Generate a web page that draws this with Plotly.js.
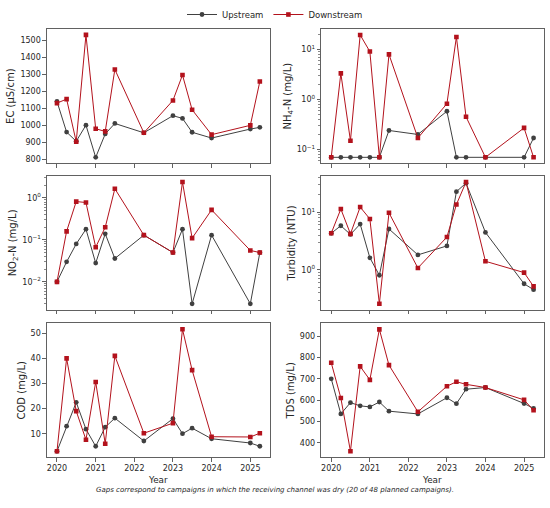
<!DOCTYPE html>
<html>
<head>
<meta charset="utf-8">
<script src="https://cdn.plot.ly/plotly-3.0.1.min.js"></script>
<style>
  html, body { margin: 0; padding: 0; background: #fff; }
  #chart { width: 550px; height: 508px; }
</style>
</head>
<body>
<div id="chart"></div>
<script>
// ---- Data ----
const dates = ["2020-01-01","2020-04-01","2020-07-01","2020-10-01","2021-01-01","2021-04-01","2021-07-01",
               "2022-04-01","2023-01-01","2023-04-01","2023-07-01","2024-01-01","2025-01-01","2025-04-01"];

const ecUp    = [1140, 959, 905, 1000, 810, 948, 1010, 955, 1056, 1040, 958, 924, 977, 987];
const ecDown  = [1130, 1154, 902, 1533, 979, 963, 1329, 955, 1146, 1296, 1091, 944, 999, 1258];

const nh4Up   = [0.07, 0.07, 0.07, 0.07, 0.07, 0.07, 0.24, 0.20, 0.58, 0.07, 0.07, 0.07, 0.07, 0.17];
const nh4Down = [0.07, 3.3, 0.15, 19.3, 9.0, 0.07, 7.9, 0.17, 0.82, 17.6, 0.45, 0.07, 0.27, 0.07];

const no2Up   = [0.010, 0.030, 0.080, 0.18, 0.028, 0.14, 0.036, 0.13, 0.050, 0.18, 0.003, 0.13, 0.003, 0.050];
const no2Down = [0.010, 0.16, 0.82, 0.78, 0.067, 0.20, 1.66, 0.13, 0.050, 2.4, 0.11, 0.52, 0.056, 0.050];

const turbUp   = [4.3, 5.8, 4.1, 6.2, 1.62, 0.81, 5.1, 1.82, 2.6, 22.5, 31.6, 4.45, 0.577, 0.456];
const turbDown = [4.3, 11.3, 4.2, 12.2, 7.6, 0.26, 9.7, 1.08, 3.7, 13.5, 33, 1.41, 0.90, 0.52];

const codUp   = [3.0, 13.0, 22.5, 11.8, 5.0, 12.6, 16.2, 7.1, 16.0, 10.0, 12.2, 8.0, 6.3, 5.0];
const codDown = [3.0, 40.0, 19.0, 7.6, 30.6, 6.0, 41.0, 10.2, 14.2, 51.6, 35.3, 8.8, 8.7, 10.2];

const tdsUp   = [700, 535, 588, 573, 568, 591, 548, 535, 611, 583, 651, 659, 584, 561];
const tdsDown = [775, 610, 360, 758, 695, 932, 764, 545, 665, 686, 674, 659, 601, 552];

const seriesNames = ["Upstream", "Downstream"];
const yTitles = ["EC (µS/cm)", "NH<sub>4</sub>-N (mg/L)", "NO<sub>2</sub>-N (mg/L)",
                 "Turbidity (NTU)", "COD (mg/L)", "TDS (mg/L)"];
const xTitle = "Year";
const caption = "Gaps correspond to campaigns in which the receiving channel was dry (20 of 48 planned campaigns).";

// log tick labels
const nh4TickVals = [0.1, 1, 10];
const nh4TickText = ["10<sup>−1</sup>", "10<sup>0</sup>", "10<sup>1</sup>"];
const no2TickVals = [0.01, 0.1, 1];
const no2TickText = ["10<sup>−2</sup>", "10<sup>−1</sup>", "10<sup>0</sup>"];
const turbTickVals = [1, 10];
const turbTickText = ["10<sup>0</sup>", "10<sup>1</sup>"];

// ---- Styling ----
const upColor = "#404040";
const downColor = "#b3121c";
const axisColor = "#3a3a3a";
const textColor = "#262626";
const font = "DejaVu Sans, sans-serif";

const panels = [
  {up: ecUp,   down: ecDown},
  {up: nh4Up,  down: nh4Down},
  {up: no2Up,  down: no2Down},
  {up: turbUp, down: turbDown},
  {up: codUp,  down: codDown},
  {up: tdsUp,  down: tdsDown}
];

const traces = [];
panels.forEach((p, i) => {
  const suffix = i === 0 ? "" : String(i + 1);
  traces.push({
    x: dates, y: p.up, type: "scatter", mode: "lines+markers",
    name: seriesNames[0], legendgroup: "up", showlegend: i === 0,
    xaxis: "x" + suffix, yaxis: "y" + suffix,
    line: {color: upColor, width: 1},
    marker: {symbol: "circle", size: 4.8, color: upColor}
  });
  traces.push({
    x: dates, y: p.down, type: "scatter", mode: "lines+markers",
    name: seriesNames[1], legendgroup: "down", showlegend: i === 0,
    xaxis: "x" + suffix, yaxis: "y" + suffix,
    line: {color: downColor, width: 1},
    marker: {symbol: "square", size: 4.6, color: downColor}
  });
});

const W = 550, H = 508;
const colDom = [[46.7 / W, 270 / W], [321 / W, 543.7 / W]];
const rowDom = [[1 - 160.7 / H, 1 - 25 / H], [1 - 308.3 / H, 1 - 173.3 / H], [1 - 457 / H, 1 - 321.7 / H]];

function minorLog(lo, hi) {
  const v = [];
  for (let e = Math.floor(lo) - 1; e <= Math.ceil(hi) + 1; e++) {
    for (let m = 2; m <= 9; m++) {
      const val = m * Math.pow(10, e);
      const l = Math.log10(val);
      if (l >= lo && l <= hi) v.push(val);
    }
  }
  return v;
}

const yCfg = [
  {type: "linear", range: [774, 1569], dtick: 100, tick0: 0},
  {type: "log", range: [-1.277, 1.408], tickvals: nh4TickVals, ticktext: nh4TickText},
  {type: "log", range: [-2.668, 0.525], tickvals: no2TickVals, ticktext: no2TickText},
  {type: "log", range: [-0.690, 1.624], tickvals: turbTickVals, ticktext: turbTickText},
  {type: "linear", range: [0.57, 54.0], dtick: 10, tick0: 0},
  {type: "linear", range: [331, 961], dtick: 100, tick0: 0}
];

const annotations = [{
  text: "<i>" + caption + "</i>", xref: "paper", yref: "paper",
  x: 0.5, y: 1 - 490 / H, xanchor: "center", yanchor: "middle",
  showarrow: false, font: {family: font, size: 7, color: textColor}
}];
// x-axis titles ("Year") under the bottom-row panels
colDom.forEach(d => {
  annotations.push({
    text: xTitle, xref: "paper", yref: "paper",
    x: (d[0] + d[1]) / 2, y: 1 - 479.5 / H, xanchor: "center", yanchor: "middle",
    showarrow: false, font: {family: font, size: 8.8, color: textColor}
  });
});

const layout = {
  width: W, height: H,
  margin: {l: 0, r: 0, t: 0, b: 0},
  paper_bgcolor: "#fff", plot_bgcolor: "#fff",
  font: {family: font, size: 8, color: textColor},
  showlegend: true,
  legend: {
    orientation: "h", x: 0.5, xanchor: "center", y: 1 - 10.5 / H, yanchor: "middle",
    font: {family: font, size: 8.5, color: textColor},
    itemwidth: 30, tracegroupgap: 0, bgcolor: "rgba(0,0,0,0)"
  },
  annotations: annotations
};

for (let i = 0; i < 6; i++) {
  const suffix = i === 0 ? "" : String(i + 1);
  const col = i % 2, row = Math.floor(i / 2);
  const bottom = row === 2;
  layout["xaxis" + suffix] = {
    type: "date", domain: colDom[col], anchor: "y" + suffix,
    range: ["2019-09-26", "2025-07-06"],
    dtick: "M12", tick0: "2020-01-01", tickformat: "%Y",
    showticklabels: bottom, ticks: "outside", ticklen: 3.5, tickwidth: 0.8, tickcolor: axisColor,
    showline: true, linecolor: axisColor, linewidth: 0.8, mirror: true,
    showgrid: false, zeroline: false, fixedrange: true,
    tickfont: {family: font, size: 8, color: textColor}
  };
  const c = yCfg[i];
  const ya = {
    type: c.type, domain: rowDom[row], anchor: "x" + suffix, range: c.range,
    ticks: "outside", ticklen: 3.5, tickwidth: 0.8, tickcolor: axisColor,
    showline: true, linecolor: axisColor, linewidth: 0.8, mirror: true,
    showgrid: false, zeroline: false, fixedrange: true,
    tickfont: {family: font, size: 8, color: textColor},
    title: {text: yTitles[i], font: {family: font, size: 10, color: textColor}, standoff: 3}
  };
  if (c.type === "log") {
    ya.tickmode = "array"; ya.tickvals = c.tickvals; ya.ticktext = c.ticktext;
    ya.minor = {ticks: "outside", ticklen: 2, tickwidth: 0.6, tickcolor: axisColor,
                tickvals: minorLog(c.range[0], c.range[1]), showgrid: false};
  } else {
    ya.dtick = c.dtick; ya.tick0 = c.tick0;
  }
  layout["yaxis" + suffix] = ya;
}

Plotly.newPlot("chart", traces, layout, {staticPlot: true, displayModeBar: false});
</script>
</body>
</html>
